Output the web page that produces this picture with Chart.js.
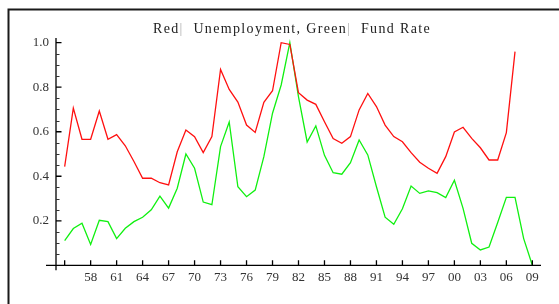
<!DOCTYPE html>
<html>
<head>
<meta charset="utf-8">
<script src="https://cdn.jsdelivr.net/npm/chart.js@4.4.1/dist/chart.umd.min.js"></script>
<style>
  html, body { margin: 0; padding: 0; background: #ffffff; }
  #wrap { width: 559px; height: 304px; position: relative; }
</style>
</head>
<body>
<div id="wrap"><canvas id="c" width="559" height="304"></canvas></div>
<script>
// ---- data ----
const years = [1955,1956,1957,1958,1959,1960,1961,1962,1963,1964,1965,1966,1967,1968,1969,
  1970,1971,1972,1973,1974,1975,1976,1977,1978,1979,1980,1981,1982,1983,1984,1985,1986,1987,
  1988,1989,1990,1991,1992,1993,1994,1995,1996,1997,1998,1999,2000,2001,2002,2003,2004,2005,
  2006,2007,2008,2009];

const unemployment = [0.443,0.706,0.566,0.566,0.693,0.566,0.587,0.537,0.466,0.391,0.391,0.371,0.361,
  0.510,0.608,0.578,0.506,0.578,0.880,0.790,0.733,0.630,0.597,0.732,0.784,1.000,0.992,0.775,0.742,
  0.723,0.645,0.569,0.548,0.578,0.698,0.772,0.713,0.630,0.578,0.555,0.506,0.463,0.436,0.413,0.488,
  0.599,0.620,0.570,0.528,0.473,0.473,0.596,0.960];

const fundRate = [0.111,0.165,0.189,0.094,0.202,0.196,0.120,0.166,0.196,0.216,0.249,0.311,0.257,
  0.346,0.500,0.436,0.284,0.272,0.533,0.644,0.353,0.308,0.338,0.488,0.683,0.810,1.000,0.757,0.554,
  0.626,0.494,0.416,0.409,0.461,0.563,0.496,0.353,0.216,0.184,0.254,0.356,0.323,0.334,0.326,0.304,
  0.382,0.256,0.099,0.069,0.082,0.192,0.305,0.305,0.120,0.000];

const xTickYears = [1958,1961,1964,1967,1970,1973,1976,1979,1982,1985,1988,1991,1994,1997,2000,2003,2006,2009];
const xTickLabels = ['58','61','64','67','70','73','76','79','82','85','88','91','94','97','00','03','06','09'];
const xTickMarks = [1955,1958,1961,1964,1967,1970,1973,1976,1979,1982,1985,1988,1991,1994,1997,2000,2003,2006,2009];
const yTickValues = [0.2,0.4,0.6,0.8,1.0];
const yTickLabels = ['0.2','0.4','0.6','0.8','1.0'];
const yMinorTicks = [0.05,0.1,0.15,0.25,0.3,0.35,0.45,0.5,0.55,0.65,0.7,0.75,0.85,0.9,0.95];
const titleParts = ['Red', '|', '  Unemployment, Green', '|', '  Fund Rate'];

const redSeries = years.slice(0, unemployment.length).map((y, i) => ({x: y, y: unemployment[i]}));
const greenSeries = years.map((y, i) => ({x: y, y: fundRate[i]}));

const SERIF = '"Liberation Serif", "Times New Roman", serif';

const axesPlugin = {
  id: 'axesPlugin',
  beforeDraw(chart) {
    const ctx = chart.ctx;
    ctx.save();
    ctx.fillStyle = '#ffffff';
    ctx.fillRect(0, 0, chart.width, chart.height);
    ctx.strokeStyle = '#1a1a1a';
    ctx.lineWidth = 2;
    ctx.strokeRect(8.5, 9.5, chart.width + 20, chart.height + 20);
    // title
    ctx.font = '14px ' + SERIF;
    ctx.textBaseline = 'alphabetic';
    ctx.textAlign = 'left';
    const targetW = 278;
    const plain = titleParts.join('');
    const baseW = ctx.measureText(plain).width;
    const ls = Math.max(0, (targetW - baseW) / plain.length);
    ctx.letterSpacing = ls.toFixed(2) + 'px';
    const fullW = ctx.measureText(plain).width;
    let x = 292 - fullW / 2;
    titleParts.forEach(p => {
      ctx.fillStyle = p === '|' ? '#b0b0b0' : '#222222';
      ctx.fillText(p, x, 33);
      x += ctx.measureText(p).width;
    });
    ctx.restore();
  },
  afterDraw(chart) {
    const ctx = chart.ctx;
    const xs = chart.scales.x, ys = chart.scales.y;
    const a = chart.chartArea;
    const y0 = ys.getPixelForValue(0);
    const x0 = a.left;
    ctx.save();
    ctx.strokeStyle = '#000000';
    ctx.lineWidth = 1.3;
    ctx.beginPath();
    ctx.moveTo(a.left - 10, y0); ctx.lineTo(a.right, y0);
    ctx.moveTo(x0, a.top); ctx.lineTo(x0, y0 + 5);
    xTickMarks.forEach(v => {
      const px = xs.getPixelForValue(v);
      ctx.moveTo(px, y0); ctx.lineTo(px, y0 - 5);
    });
    yTickValues.forEach(v => {
      const py = ys.getPixelForValue(v);
      ctx.moveTo(x0, py); ctx.lineTo(x0 + 5.5, py);
    });
    ctx.stroke();
    ctx.lineWidth = 1;
    ctx.strokeStyle = '#333333';
    ctx.beginPath();
    yMinorTicks.forEach(v => {
      const py = Math.round(ys.getPixelForValue(v)) + 0.5;
      ctx.moveTo(x0, py); ctx.lineTo(x0 + 3.5, py);
    });
    ctx.stroke();
    ctx.restore();
  }
};

new Chart(document.getElementById('c'), {
  type: 'line',
  data: {
    datasets: [
      { label: 'Unemployment', data: redSeries, borderColor: '#ff1010', borderWidth: 1.3,
        pointRadius: 0, tension: 0, fill: false },
      { label: 'Fund Rate', data: greenSeries, borderColor: '#10f010', borderWidth: 1.3,
        pointRadius: 0, tension: 0, fill: false }
    ]
  },
  options: {
    responsive: false,
    animation: false,
    events: [],
    layout: { padding: { left: 0, right: 18, top: 38, bottom: 0 } },
    plugins: {
      legend: { display: false },
      tooltip: { enabled: false },
      title: { display: false }
    },
    scales: {
      x: {
        type: 'linear',
        min: 1954,
        max: 2010,
        grid: { display: false, drawTicks: false },
        border: { display: false },
        afterBuildTicks: (scale) => { scale.ticks = xTickYears.map(v => ({ value: v })); },
        afterFit: (scale) => { scale.height = 38.7; },
        ticks: {
          autoSkip: false,
          maxRotation: 0,
          padding: 4,
          color: '#333333',
          font: { family: SERIF, size: 13 },
          callback: (v) => { const i = xTickYears.indexOf(v); return i >= 0 ? xTickLabels[i] : ''; }
        }
      },
      y: {
        type: 'linear',
        min: 0,
        max: 1.021,
        grid: { display: false, drawTicks: false },
        border: { display: false },
        afterBuildTicks: (scale) => { scale.ticks = yTickValues.map(v => ({ value: v })); },
        afterFit: (scale) => { scale.width = 56; },
        ticks: {
          autoSkip: false,
          padding: 7,
          color: '#333333',
          font: { family: SERIF, size: 13 },
          callback: (v) => { const i = yTickValues.indexOf(v); return i >= 0 ? yTickLabels[i] : ''; }
        }
      }
    }
  },
  plugins: [axesPlugin]
});
</script>
</body>
</html>
